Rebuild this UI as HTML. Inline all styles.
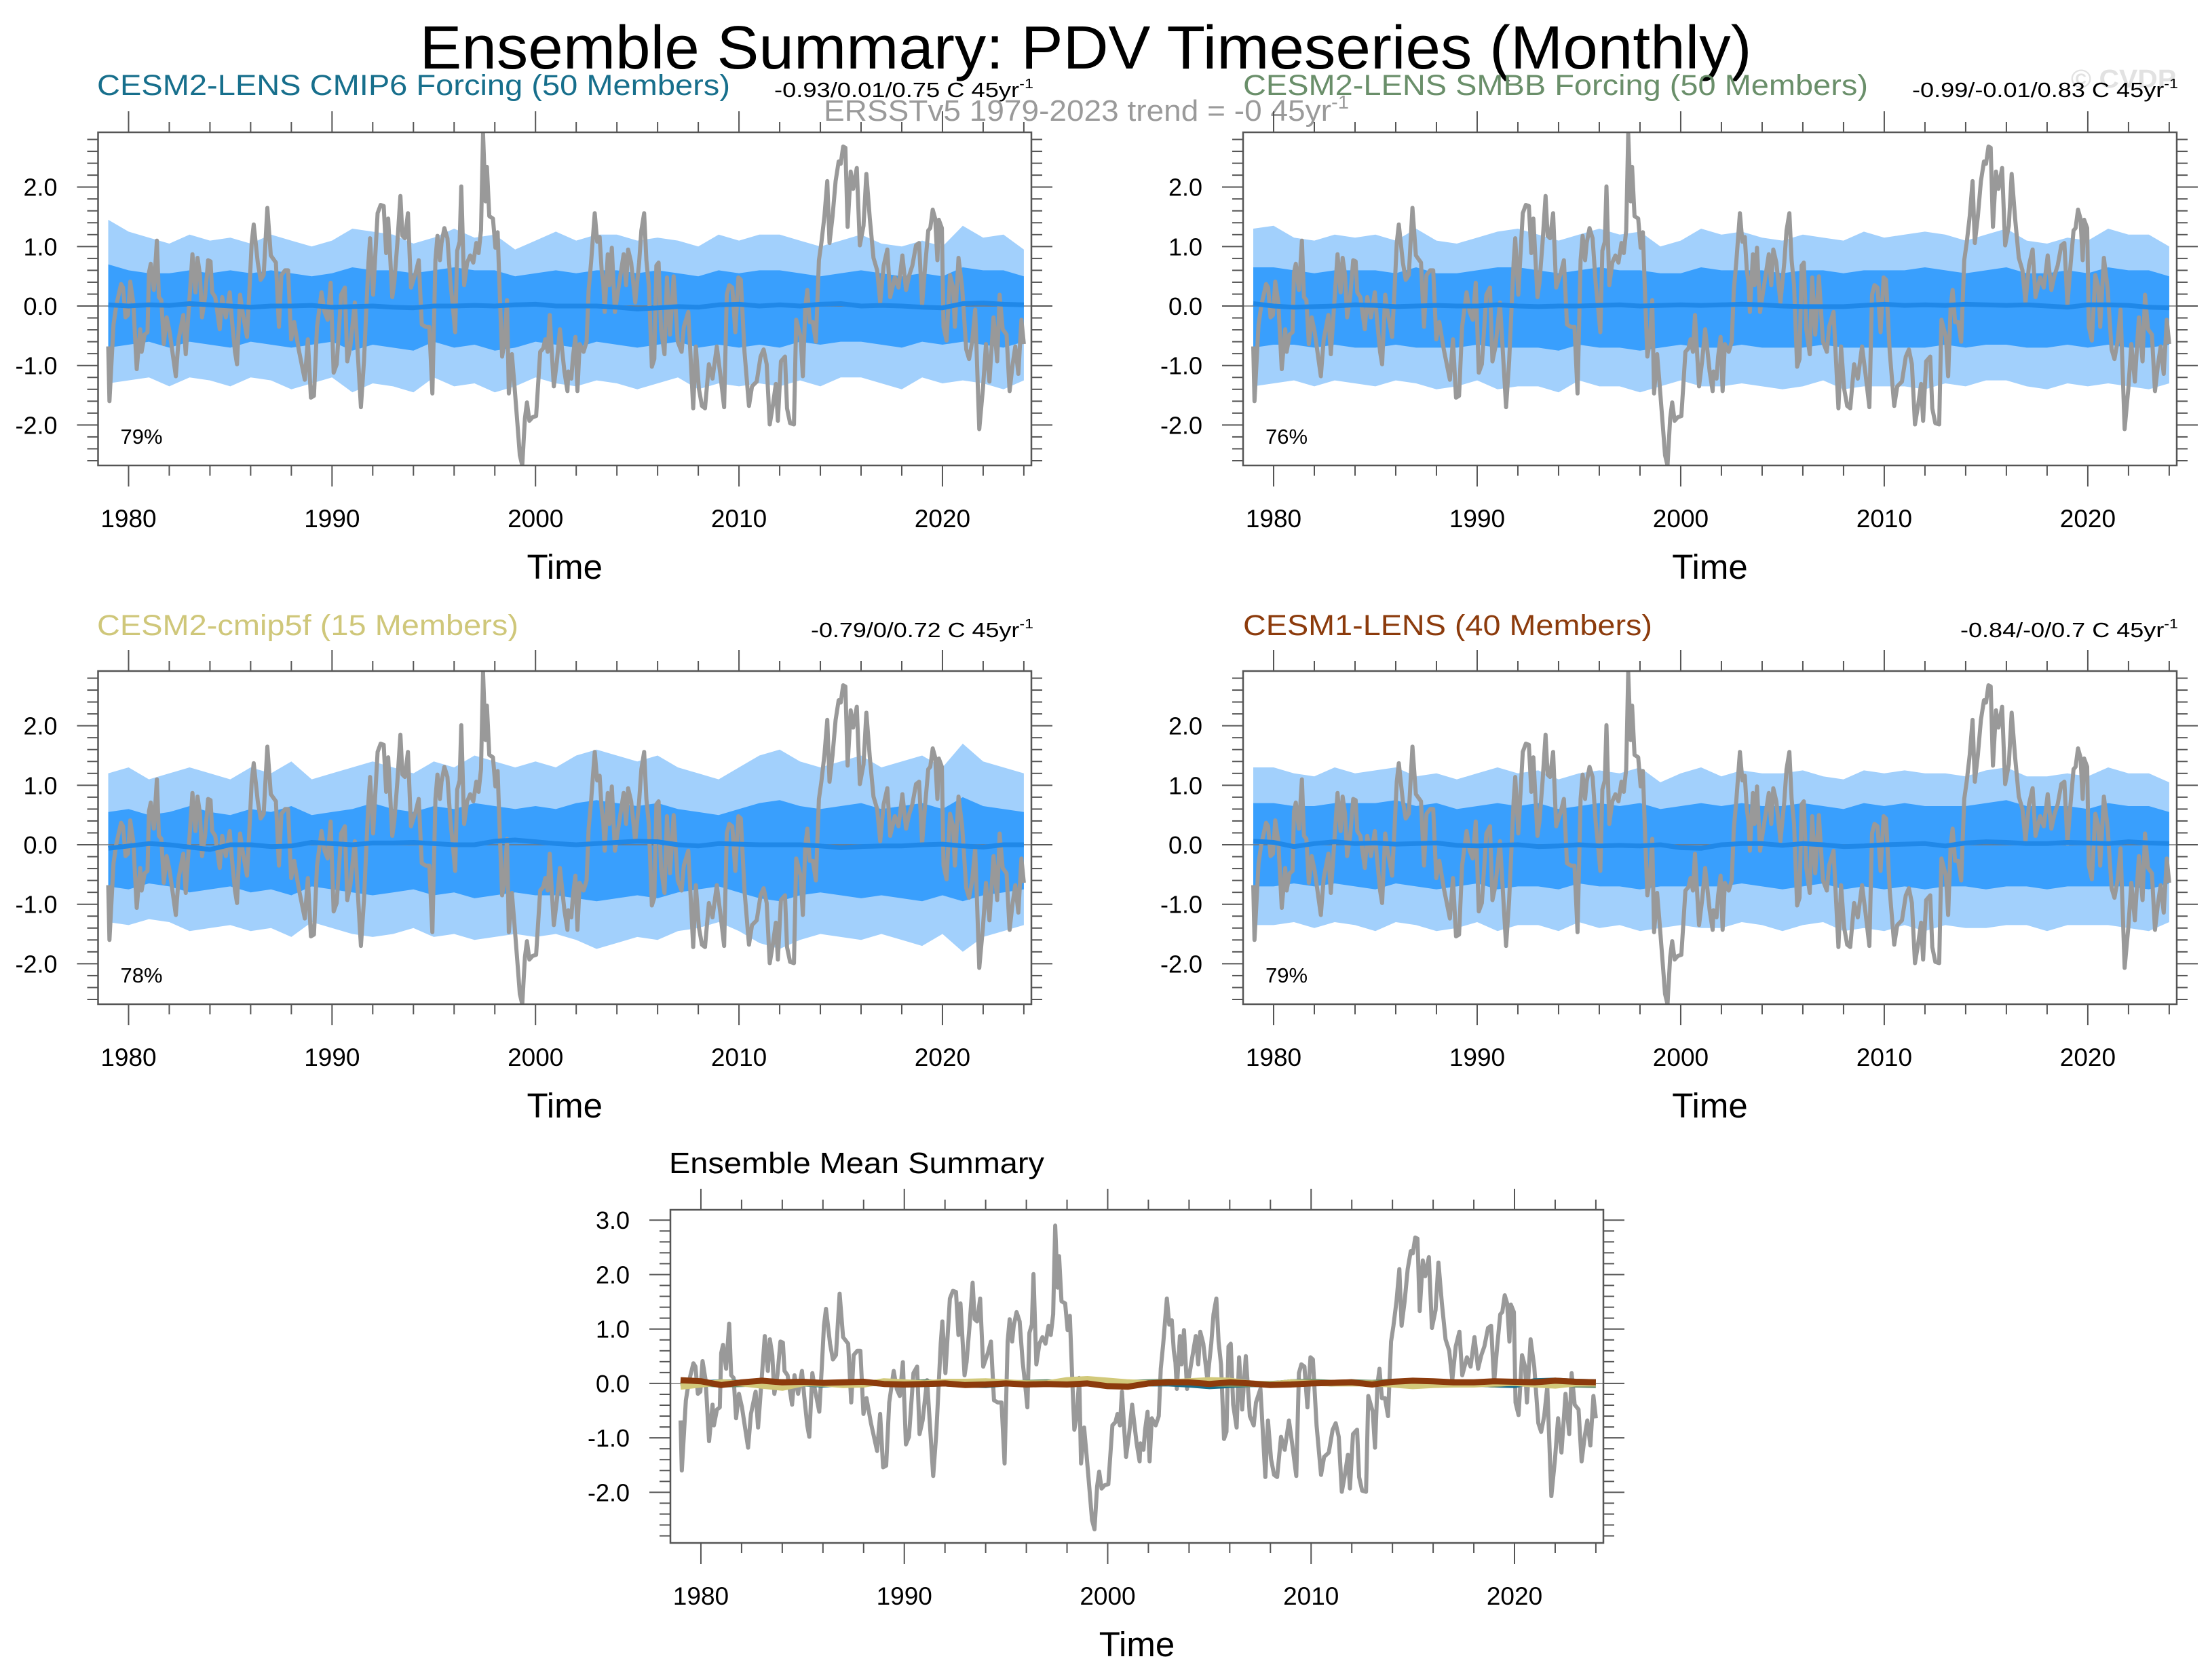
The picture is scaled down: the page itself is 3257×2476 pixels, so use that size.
<!DOCTYPE html>
<html><head><meta charset="utf-8"><title>Ensemble Summary: PDV Timeseries (Monthly)</title>
<style>
html,body{margin:0;padding:0;background:#fff;}
svg{display:block;font-family:"Liberation Sans",Arial,sans-serif;}
</style></head>
<body>
<svg id="fig" width="3257" height="2476" viewBox="0 0 3257 2476" xmlns="http://www.w3.org/2000/svg">
<rect x="0" y="0" width="3257" height="2476" fill="#fff"/>
<text x="1600" y="101" font-size="90" text-anchor="middle" textLength="1963" lengthAdjust="spacingAndGlyphs" fill="#000">Ensemble Summary: PDV Timeseries (Monthly)</text>
<text x="3052" y="129" font-size="38" font-weight="bold" fill="#e2e2e2" textLength="155" lengthAdjust="spacingAndGlyphs">© CVDP</text>
<text x="143" y="140" font-size="43" fill="#176f8c" textLength="933" lengthAdjust="spacingAndGlyphs">CESM2-LENS CMIP6 Forcing (50 Members)</text>
<text x="1141" y="143" font-size="31" fill="#000" textLength="382" lengthAdjust="spacingAndGlyphs">-0.93/0.01/0.75 C 45yr<tspan font-size="20" dy="-13">-1</tspan></text>
<text x="1214" y="178" font-size="44" fill="#9a9a9a" textLength="774" lengthAdjust="spacingAndGlyphs">ERSSTv5 1979-2023 trend = -0 45yr<tspan font-size="28" dy="-18">-1</tspan></text>
<text x="1832" y="140" font-size="43" fill="#6a8f6a" textLength="921" lengthAdjust="spacingAndGlyphs">CESM2-LENS SMBB Forcing (50 Members)</text>
<text x="2818" y="143" font-size="31" fill="#000" textLength="392" lengthAdjust="spacingAndGlyphs">-0.99/-0.01/0.83 C 45yr<tspan font-size="20" dy="-13">-1</tspan></text>
<text x="143" y="936" font-size="43" fill="#cfc77a" textLength="621" lengthAdjust="spacingAndGlyphs">CESM2-cmip5f (15 Members)</text>
<text x="1195" y="939" font-size="31" fill="#000" textLength="328" lengthAdjust="spacingAndGlyphs">-0.79/0/0.72 C 45yr<tspan font-size="20" dy="-13">-1</tspan></text>
<text x="1832" y="936" font-size="43" fill="#8c3b0c" textLength="603" lengthAdjust="spacingAndGlyphs">CESM1-LENS (40 Members)</text>
<text x="2889" y="939" font-size="31" fill="#000" textLength="321" lengthAdjust="spacingAndGlyphs">-0.84/-0/0.7 C 45yr<tspan font-size="20" dy="-13">-1</tspan></text>
<text x="986" y="1729" font-size="44" fill="#000" textLength="553" lengthAdjust="spacingAndGlyphs">Ensemble Mean Summary</text>
</svg>
<script>
// ---- Observations (ERSSTv5 PDV index), decimal years and values ----
const obsYears = [1979.00,1979.06,1979.26,1979.40,1979.63,1979.73,1979.85,1979.97,1980.08,1980.23,1980.40,1980.57,1980.64,1980.79,1980.93,1981.00,1981.09,1981.24,1981.39,1981.49,1981.61,1981.73,1981.87,1982.02,1982.32,1982.46,1982.69,1982.81,1982.91,1983.14,1983.29,1983.39,1983.51,1983.61,1983.76,1983.91,1984.03,1984.11,1984.26,1984.48,1984.60,1984.78,1984.97,1985.08,1985.23,1985.33,1985.48,1985.60,1985.82,1985.94,1986.05,1986.15,1986.35,1986.49,1986.64,1986.82,1986.99,1987.24,1987.39,1987.51,1987.69,1987.84,1987.99,1988.14,1988.36,1988.66,1988.81,1988.96,1989.11,1989.26,1989.48,1989.63,1989.78,1989.93,1990.08,1990.23,1990.45,1990.63,1990.75,1990.90,1991.12,1991.42,1991.57,1991.79,1991.87,1992.02,1992.24,1992.39,1992.54,1992.66,1992.76,1992.96,1993.06,1993.21,1993.36,1993.46,1993.58,1993.73,1993.88,1994.11,1994.26,1994.41,1994.60,1994.78,1994.93,1995.08,1995.18,1995.30,1995.38,1995.52,1995.67,1995.82,1995.94,1996.05,1996.15,1996.27,1996.35,1996.49,1996.64,1996.79,1996.94,1997.09,1997.20,1997.32,1997.42,1997.54,1997.61,1997.73,1997.91,1998.03,1998.14,1998.26,1998.36,1998.48,1998.60,1998.69,1998.84,1998.96,1999.11,1999.23,1999.35,1999.48,1999.58,1999.70,1999.85,2000.03,2000.23,2000.38,2000.48,2000.60,2000.70,2000.82,2000.90,2001.05,2001.20,2001.42,2001.57,2001.61,2001.76,2001.84,2001.96,2002.06,2002.17,2002.36,2002.51,2002.61,2002.73,2002.91,2003.03,2003.15,2003.25,2003.33,2003.40,2003.55,2003.63,2003.75,2003.90,2004.08,2004.33,2004.45,2004.55,2004.70,2004.90,2005.09,2005.20,2005.34,2005.45,2005.57,2005.72,2005.84,2005.94,2006.05,2006.17,2006.34,2006.46,2006.61,2006.79,2006.99,2007.18,2007.29,2007.51,2007.75,2007.88,2008.03,2008.18,2008.33,2008.52,2008.70,2008.91,2009.08,2009.27,2009.40,2009.52,2009.67,2009.82,2009.97,2010.09,2010.27,2010.49,2010.64,2010.87,2011.06,2011.21,2011.36,2011.51,2011.66,2011.81,2011.91,2012.06,2012.26,2012.36,2012.51,2012.70,2012.81,2013.03,2013.14,2013.26,2013.36,2013.48,2013.63,2013.78,2013.93,2014.05,2014.20,2014.34,2014.45,2014.60,2014.75,2014.90,2015.00,2015.12,2015.23,2015.34,2015.49,2015.61,2015.79,2015.94,2016.12,2016.26,2016.43,2016.61,2016.79,2016.94,2017.11,2017.29,2017.43,2017.66,2017.84,2018.03,2018.21,2018.37,2018.52,2018.70,2018.85,2019.00,2019.15,2019.30,2019.40,2019.52,2019.64,2019.75,2019.82,2019.97,2020.05,2020.20,2020.37,2020.52,2020.61,2020.79,2020.97,2021.17,2021.31,2021.46,2021.61,2021.81,2021.99,2022.14,2022.31,2022.51,2022.69,2022.81,2022.96,2023.15,2023.30,2023.45,2023.58,2023.73,2023.88,2024.00];
const obsValues = [-0.68,-1.60,-0.31,0.02,0.37,0.31,-0.19,-0.15,0.41,0.06,-1.06,-0.39,-0.77,-0.48,-0.44,0.56,0.71,0.27,1.10,0.15,0.10,-0.64,-0.19,-0.44,-1.18,-0.56,-0.15,-0.81,-0.31,0.87,0.23,0.81,0.52,-0.19,0.15,0.77,0.75,0.23,0.15,-0.39,0.15,-0.19,0.23,-0.23,-0.77,-0.98,0.19,-0.10,-0.52,0.27,1.06,1.37,0.73,0.44,0.52,1.65,0.85,0.73,-0.35,0.52,0.60,0.60,-0.56,-0.27,-0.73,-1.24,-0.56,-1.54,-1.51,-0.35,0.23,-0.10,-0.23,0.39,-1.12,-0.98,0.19,0.31,-0.93,-0.68,0.06,-1.70,-0.93,0.73,1.14,0.19,1.56,1.70,1.68,0.89,1.47,0.15,0.39,1.06,1.85,1.18,1.14,1.56,0.31,0.56,0.77,-0.31,-0.35,-0.35,-1.47,0.77,1.18,0.77,1.06,1.31,1.14,0.39,-0.02,-0.44,0.93,1.08,2.01,0.35,0.73,0.85,0.73,1.06,0.89,1.27,2.90,1.76,2.34,1.51,1.47,0.98,1.24,0.06,-0.85,-0.60,0.10,-1.47,-0.81,-1.31,-1.97,-2.51,-2.68,-1.89,-1.62,-1.93,-1.87,-1.85,-0.77,-0.71,-0.56,-0.77,-0.15,-0.89,-1.35,-0.93,-0.39,-1.10,-1.43,-1.10,-1.22,-0.85,-0.52,-1.43,-0.64,-0.77,-0.60,0.27,0.73,1.56,1.08,1.16,0.60,0.39,-0.10,0.87,0.35,0.98,-0.10,0.31,0.87,0.35,0.95,0.73,0.06,0.73,1.27,1.56,0.77,0.35,-1.02,-0.89,0.68,0.73,-0.39,-0.81,0.48,-0.48,0.50,-0.60,-0.77,-0.35,-0.10,-1.72,-0.68,-1.39,-1.68,-1.72,-0.98,-1.22,-0.68,-1.14,-1.70,0.19,0.35,0.31,-0.44,0.48,0.44,-0.77,-1.68,-1.35,-1.27,-0.85,-0.73,-0.98,-1.99,-1.68,-1.31,-1.93,-0.93,-0.85,-1.72,-1.97,-1.99,-0.23,-0.52,-1.18,-0.02,0.27,-0.27,-0.27,-0.60,0.77,1.06,1.51,2.10,1.06,1.51,2.10,2.43,2.39,2.68,2.66,1.33,2.26,1.97,2.32,1.02,1.35,2.22,1.47,0.81,0.60,0.06,0.68,0.95,0.15,0.48,0.31,0.85,0.27,0.52,0.68,1.02,1.06,0.02,0.68,1.27,1.31,1.62,1.47,0.77,1.45,1.31,-0.35,-0.58,0.52,0.31,-0.35,0.81,0.31,-0.73,-0.89,-0.60,-0.06,-2.07,-1.39,-0.64,-1.27,-0.19,-0.93,0.19,-0.39,-0.48,-1.43,-0.98,-0.68,-1.14,-0.23,-0.64];

// ---- Ensemble spread (yearly), categories ----
const bandYears = [1979,1980,1981,1982,1983,1984,1985,1986,1987,1988,1989,1990,1991,1992,1993,1994,1995,1996,1997,1998,1999,2000,2001,2002,2003,2004,2005,2006,2007,2008,2009,2010,2011,2012,2013,2014,2015,2016,2017,2018,2019,2020,2021,2022,2023,2024];

// CESM2-LENS CMIP6
const cmip6Max  = [1.45,1.25,1.15,1.05,1.2,1.1,1.15,1.05,1.2,1.1,1.0,1.1,1.3,1.25,1.2,1.05,1.15,1.3,1.15,1.2,0.95,1.1,1.25,1.1,1.2,1.2,1.1,1.15,1.1,1.0,1.2,1.1,1.2,1.2,1.1,1.0,1.1,1.2,1.05,1.0,1.1,1.0,1.35,1.15,1.2,0.95];
const cmip6P84  = [0.7,0.6,0.55,0.55,0.6,0.55,0.6,0.55,0.6,0.55,0.5,0.55,0.65,0.6,0.6,0.55,0.6,0.65,0.6,0.6,0.5,0.55,0.6,0.55,0.6,0.6,0.55,0.6,0.55,0.5,0.6,0.55,0.6,0.6,0.55,0.5,0.55,0.6,0.55,0.5,0.55,0.5,0.65,0.6,0.6,0.5];
const cmip6P16  = [-0.7,-0.65,-0.6,-0.7,-0.6,-0.65,-0.7,-0.6,-0.65,-0.7,-0.65,-0.6,-0.75,-0.65,-0.7,-0.75,-0.6,-0.7,-0.65,-0.75,-0.7,-0.6,-0.65,-0.7,-0.6,-0.65,-0.7,-0.65,-0.6,-0.7,-0.65,-0.7,-0.65,-0.7,-0.6,-0.65,-0.6,-0.6,-0.65,-0.7,-0.6,-0.65,-0.6,-0.65,-0.7,-0.6];
const cmip6Min  = [-1.3,-1.25,-1.2,-1.35,-1.2,-1.25,-1.35,-1.2,-1.25,-1.4,-1.3,-1.2,-1.45,-1.3,-1.35,-1.45,-1.2,-1.35,-1.3,-1.45,-1.35,-1.2,-1.3,-1.35,-1.25,-1.3,-1.4,-1.3,-1.2,-1.4,-1.3,-1.35,-1.3,-1.35,-1.25,-1.35,-1.2,-1.2,-1.3,-1.4,-1.2,-1.3,-1.25,-1.3,-1.4,-1.25];
const cmip6Mean = [0.02,0.0,0.02,0.01,0.04,0.02,0.0,-0.02,0.0,0.0,0.01,-0.02,-0.01,0.0,-0.02,-0.03,0.0,0.0,0.01,0.0,0.02,0.03,0.0,0.0,0.0,-0.02,-0.05,-0.03,-0.01,-0.02,0.02,0.03,0.0,0.02,0.0,0.03,0.04,0.0,0.01,0.0,-0.02,-0.03,0.04,0.05,0.03,0.02];

// CESM2-LENS SMBB
const smbbMax  = [1.3,1.35,1.15,1.1,1.2,1.15,1.2,1.1,1.3,1.1,1.05,1.15,1.25,1.3,1.2,1.1,1.2,1.3,1.2,1.25,1.0,1.1,1.3,1.2,1.25,1.15,1.1,1.2,1.15,1.1,1.25,1.15,1.2,1.25,1.2,1.1,1.2,1.3,1.1,1.05,1.15,1.1,1.3,1.2,1.2,1.0];
const smbbP84  = [0.65,0.65,0.6,0.55,0.6,0.6,0.6,0.55,0.65,0.55,0.55,0.6,0.65,0.65,0.6,0.55,0.6,0.65,0.6,0.6,0.55,0.55,0.65,0.6,0.6,0.6,0.55,0.6,0.6,0.55,0.6,0.6,0.6,0.65,0.6,0.55,0.6,0.65,0.55,0.55,0.6,0.55,0.65,0.6,0.6,0.5];
const smbbP16  = [-0.7,-0.65,-0.65,-0.7,-0.65,-0.7,-0.7,-0.65,-0.7,-0.7,-0.7,-0.65,-0.7,-0.7,-0.7,-0.75,-0.65,-0.7,-0.7,-0.75,-0.7,-0.65,-0.7,-0.7,-0.65,-0.7,-0.7,-0.7,-0.65,-0.7,-0.7,-0.7,-0.7,-0.7,-0.65,-0.7,-0.65,-0.65,-0.7,-0.7,-0.65,-0.7,-0.65,-0.7,-0.7,-0.65];
const smbbMin  = [-1.35,-1.3,-1.25,-1.35,-1.25,-1.3,-1.35,-1.25,-1.3,-1.4,-1.35,-1.25,-1.4,-1.35,-1.35,-1.45,-1.25,-1.35,-1.35,-1.45,-1.35,-1.25,-1.35,-1.35,-1.3,-1.35,-1.4,-1.35,-1.25,-1.4,-1.35,-1.35,-1.35,-1.4,-1.3,-1.35,-1.25,-1.25,-1.35,-1.4,-1.3,-1.35,-1.3,-1.35,-1.4,-1.3];
const smbbMean = [0.04,0.0,-0.02,-0.01,0.0,0.02,0.01,-0.01,0.0,0.01,0.0,0.0,0.02,0.0,-0.01,0.0,0.0,0.01,0.02,0.0,0.01,0.02,0.01,0.02,0.03,0.02,0.0,-0.01,-0.01,-0.01,0.01,0.03,0.01,0.02,0.01,0.03,0.02,0.01,0.02,0.0,-0.02,0.02,0.02,0.01,-0.02,-0.03];

// CESM2-cmip5f
const cmip5fMax  = [1.2,1.3,1.1,1.2,1.3,1.2,1.1,1.3,1.2,1.4,1.1,1.2,1.3,1.4,1.3,1.2,1.4,1.3,1.5,1.4,1.3,1.4,1.3,1.5,1.6,1.5,1.4,1.5,1.3,1.2,1.1,1.3,1.5,1.6,1.4,1.3,1.4,1.5,1.3,1.4,1.5,1.3,1.7,1.4,1.3,1.2];
const cmip5fP84  = [0.55,0.6,0.5,0.55,0.65,0.55,0.5,0.6,0.55,0.65,0.5,0.55,0.6,0.7,0.6,0.55,0.65,0.6,0.7,0.65,0.6,0.65,0.6,0.7,0.75,0.7,0.65,0.7,0.6,0.55,0.5,0.6,0.7,0.75,0.65,0.6,0.65,0.7,0.6,0.65,0.7,0.6,0.8,0.65,0.6,0.55];
const cmip5fP16  = [-0.7,-0.75,-0.65,-0.7,-0.8,-0.75,-0.7,-0.8,-0.75,-0.85,-0.7,-0.75,-0.8,-0.85,-0.8,-0.75,-0.85,-0.8,-0.9,-0.85,-0.8,-0.85,-0.85,-0.9,-0.95,-0.9,-0.85,-0.9,-0.8,-0.75,-0.7,-0.8,-0.9,-0.95,-0.85,-0.8,-0.85,-0.9,-0.85,-0.9,-0.95,-0.85,-0.95,-0.85,-0.8,-0.75];
const cmip5fMin  = [-1.3,-1.35,-1.25,-1.3,-1.45,-1.4,-1.35,-1.45,-1.4,-1.55,-1.3,-1.4,-1.5,-1.55,-1.5,-1.4,-1.55,-1.5,-1.6,-1.55,-1.5,-1.55,-1.5,-1.6,-1.75,-1.65,-1.55,-1.6,-1.45,-1.4,-1.3,-1.45,-1.65,-1.75,-1.6,-1.5,-1.55,-1.6,-1.5,-1.6,-1.7,-1.5,-1.8,-1.55,-1.45,-1.35];
const cmip5fMean = [-0.06,-0.02,0.02,0.0,-0.04,-0.08,0.0,0.0,-0.03,-0.02,0.04,0.02,0.0,0.03,0.03,0.04,0.02,0.0,0.0,0.06,0.08,0.05,0.02,0.0,0.02,0.04,0.06,0.05,0.0,-0.02,0.02,0.01,0.0,0.0,0.0,-0.02,-0.05,-0.03,-0.02,-0.02,0.0,0.01,-0.02,-0.04,0.0,0.0];

// CESM1-LENS
const cesm1Max  = [1.3,1.3,1.2,1.15,1.3,1.2,1.25,1.3,1.15,1.2,1.1,1.2,1.3,1.2,1.25,1.1,1.2,1.25,1.2,1.3,1.05,1.2,1.3,1.15,1.25,1.2,1.2,1.25,1.15,1.1,1.25,1.2,1.25,1.2,1.2,1.15,1.25,1.3,1.15,1.15,1.2,1.15,1.3,1.2,1.2,1.05];
const cesm1P84  = [0.7,0.7,0.65,0.65,0.7,0.7,0.7,0.75,0.65,0.7,0.6,0.65,0.7,0.65,0.7,0.6,0.65,0.7,0.65,0.7,0.6,0.65,0.7,0.65,0.7,0.65,0.65,0.7,0.65,0.6,0.7,0.65,0.7,0.65,0.65,0.65,0.7,0.75,0.65,0.65,0.65,0.6,0.7,0.65,0.65,0.55];
const cesm1P16  = [-0.7,-0.7,-0.65,-0.7,-0.65,-0.7,-0.75,-0.65,-0.7,-0.75,-0.7,-0.65,-0.75,-0.7,-0.7,-0.75,-0.65,-0.7,-0.7,-0.75,-0.7,-0.7,-0.7,-0.7,-0.65,-0.7,-0.75,-0.7,-0.65,-0.75,-0.7,-0.75,-0.7,-0.75,-0.7,-0.7,-0.75,-0.7,-0.7,-0.75,-0.7,-0.7,-0.7,-0.7,-0.75,-0.65];
const cesm1Min  = [-1.35,-1.35,-1.3,-1.4,-1.3,-1.35,-1.45,-1.3,-1.35,-1.45,-1.4,-1.3,-1.45,-1.35,-1.35,-1.45,-1.3,-1.4,-1.35,-1.45,-1.4,-1.35,-1.4,-1.4,-1.3,-1.35,-1.45,-1.35,-1.3,-1.45,-1.4,-1.45,-1.35,-1.45,-1.35,-1.4,-1.4,-1.35,-1.35,-1.45,-1.35,-1.35,-1.35,-1.4,-1.45,-1.3];
const cesm1Mean = [0.06,0.04,-0.03,0.02,0.05,0.02,0.03,0.01,0.02,0.03,-0.01,-0.02,-0.01,0.0,-0.03,-0.02,0.0,-0.02,-0.01,-0.02,0.0,-0.05,-0.06,0.0,0.02,0.02,-0.01,0.02,0.0,-0.03,-0.02,0.0,0.01,0.02,-0.02,0.03,0.05,0.04,0.02,0.02,0.04,0.03,0.02,0.05,0.03,0.02];

// axis tick labels
const xTickYears = [1980,1990,2000,2010,2020];
const yTicksPanel = [-2,-1,0,1,2];
const yTicksSummary = [-2,-1,0,1,2,3];
const pctLabels = ["79%","76%","78%","79%"];

const NS = "http://www.w3.org/2000/svg";
const svg = document.getElementById("fig");
function mk(tag, attrs, parent){
  const el = document.createElementNS(NS, tag);
  for (const k in attrs) el.setAttribute(k, attrs[k]);
  (parent || svg).appendChild(el);
  return el;
}
const XMIN = 1978.5, XMAX = 2024.37;

function axes(b){
  const sx = v => b.x0 + (v - XMIN) / (XMAX - XMIN) * (b.x1 - b.x0);
  const sy = v => b.y0 + (b.ymax - v) / (b.ymax - b.ymin) * (b.y1 - b.y0);
  return {sx, sy};
}

function drawFrame(b, yTicks, name){
  const {sx, sy} = axes(b);
  const g = mk("g", {});
  
  
  for (let yr = 1980; yr <= 2024; yr += 2){
    const x = sx(yr);
    const major = (yr % 10 === 0);
    const L = major ? 31 : 15;
    const t1 = mk("line", {x1:x, x2:x, y1:b.y1, y2:b.y1 + L, stroke:"#555", "stroke-width":2}, g);
    
    
    const t2 = mk("line", {x1:x, x2:x, y1:b.y0, y2:b.y0 - L, stroke:"#555", "stroke-width":2}, g);
    
    
  }
  xTickYears.forEach(yr => {
    const t = mk("text", {x:sx(yr), y:b.y1 + 91, "font-size":37, "text-anchor":"middle", fill:"#000"}, g);
    
    
    t.textContent = String(yr);
  });
  const lo = Math.ceil(b.ymin * 5), hi = Math.floor(b.ymax * 5);
  for (let k = lo; k <= hi; k++){
    const v = k / 5, y = sy(v);
    const major = (k % 5 === 0);
    const L = major ? 31 : 16;
    const t1 = mk("line", {x1:b.x0 - L, x2:b.x0, y1:y, y2:y, stroke:"#555", "stroke-width":2}, g);
    
    
    const t2 = mk("line", {x1:b.x1, x2:b.x1 + L, y1:y, y2:y, stroke:"#555", "stroke-width":2}, g);
    
    
  }
  yTicks.forEach(v => {
    const t = mk("text", {x:b.x0 - 60, y:sy(v) + 13, "font-size":36, "text-anchor":"end", fill:"#000"}, g);
    
    
    t.textContent = v.toFixed(1);
  });
  const box = mk("rect", {x:b.x0, y:b.y0, width:b.x1 - b.x0, height:b.y1 - b.y0, fill:"none", stroke:"#555", "stroke-width":2.5}, g);
  
  
  const tl = mk("text", {x:(b.x0 + b.x1) / 2, y:b.y1 + 167, "font-size":51, "text-anchor":"middle", fill:"#000"}, g);
  
  
  tl.textContent = "Time";
}

function linePath(xs, ys, sx, sy){
  return xs.map((x, i) => (i ? "L" : "M") + sx(x).toFixed(1) + "," + sy(ys[i]).toFixed(1)).join("");
}
function bandPath(xs, up, lo, sx, sy){
  let d = xs.map((x, i) => (i ? "L" : "M") + sx(x).toFixed(1) + "," + sy(up[i]).toFixed(1)).join("");
  for (let i = xs.length - 1; i >= 0; i--) d += "L" + sx(xs[i]).toFixed(1) + "," + sy(lo[i]).toFixed(1);
  return d + "Z";
}

let clipId = 0;
function clipFor(b){
  const id = "clip" + (clipId++);
  const cp = mk("clipPath", {id:id});
  mk("rect", {x:b.x0, y:b.y0, width:b.x1 - b.x0, height:b.y1 - b.y0}, cp);
  return "url(#" + id + ")";
}

function drawPanel(b, mx, p84, p16, mn, mean, pct, name){
  const {sx, sy} = axes(b);
  const g = mk("g", {"clip-path": clipFor(b)});
  
  
  const light = mk("path", {d: bandPath(bandYears, mx, mn, sx, sy), fill:"#a2d0fc"}, g);
  
  
  const dark = mk("path", {d: bandPath(bandYears, p84, p16, sx, sy), fill:"#399ffd"}, g);
  
  
  const zero = mk("line", {x1:b.x0, x2:b.x1, y1:sy(0), y2:sy(0), stroke:"#777", "stroke-width":1.5}, g);
  
  
  const obs = mk("path", {d: linePath(obsYears, obsValues, sx, sy), fill:"none", stroke:"#999", "stroke-width":6, "stroke-linejoin":"round"}, g);
  
  
  const ml = mk("path", {d: linePath(bandYears, mean, sx, sy), fill:"none", stroke:"#2088e8", "stroke-width":7, "stroke-linejoin":"round"}, g);
  
  
  drawFrame(b, yTicksPanel, name);
  const pt = mk("text", {x:b.x0 + 33, y:b.y1 - 32, "font-size":31, fill:"#000"});
  
  
  pt.textContent = pct;
}

const YMIN = -2.68, YMAX = 2.92;
drawPanel({x0:144.5, x1:1520, y0:195, y1:686, ymin:YMIN, ymax:YMAX}, cmip6Max, cmip6P84, cmip6P16, cmip6Min, cmip6Mean, pctLabels[0], "cesm2-cmip6");
drawPanel({x0:1832, x1:3208, y0:195, y1:686, ymin:YMIN, ymax:YMAX}, smbbMax, smbbP84, smbbP16, smbbMin, smbbMean, pctLabels[1], "cesm2-smbb");
drawPanel({x0:144.5, x1:1520, y0:989, y1:1480, ymin:YMIN, ymax:YMAX}, cmip5fMax, cmip5fP84, cmip5fP16, cmip5fMin, cmip5fMean, pctLabels[2], "cesm2-cmip5f");
drawPanel({x0:1832, x1:3208, y0:989, y1:1480, ymin:YMIN, ymax:YMAX}, cesm1Max, cesm1P84, cesm1P16, cesm1Min, cesm1Mean, pctLabels[3], "cesm1-lens");

(function(){
  const b = {x0:988, x1:2363, y0:1783, y1:2274, ymin:-2.93, ymax:3.19};
  const {sx, sy} = axes(b);
  const g = mk("g", {"clip-path": clipFor(b)});
  
  
  const zero = mk("line", {x1:b.x0, x2:b.x1, y1:sy(0), y2:sy(0), stroke:"#777", "stroke-width":1.5}, g);
  
  
  const obs = mk("path", {d: linePath(obsYears, obsValues, sx, sy), fill:"none", stroke:"#999", "stroke-width":6, "stroke-linejoin":"round"}, g);
  
  
  const l1 = mk("path", {d: linePath(bandYears, cmip6Mean, sx, sy), fill:"none", stroke:"#176f8c", "stroke-width":9, "stroke-linejoin":"round"}, g);
  
  
  const l2 = mk("path", {d: linePath(bandYears, smbbMean, sx, sy), fill:"none", stroke:"#6a8f6a", "stroke-width":9, "stroke-linejoin":"round"}, g);
  
  
  const l3 = mk("path", {d: linePath(bandYears, cmip5fMean, sx, sy), fill:"none", stroke:"#d2c97a", "stroke-width":9, "stroke-linejoin":"round"}, g);
  
  
  const l4 = mk("path", {d: linePath(bandYears, cesm1Mean, sx, sy), fill:"none", stroke:"#8c3b0c", "stroke-width":9, "stroke-linejoin":"round"}, g);
  
  
  drawFrame(b, yTicksSummary, "ensemble-mean-summary");
})();
</script>
</body></html>
